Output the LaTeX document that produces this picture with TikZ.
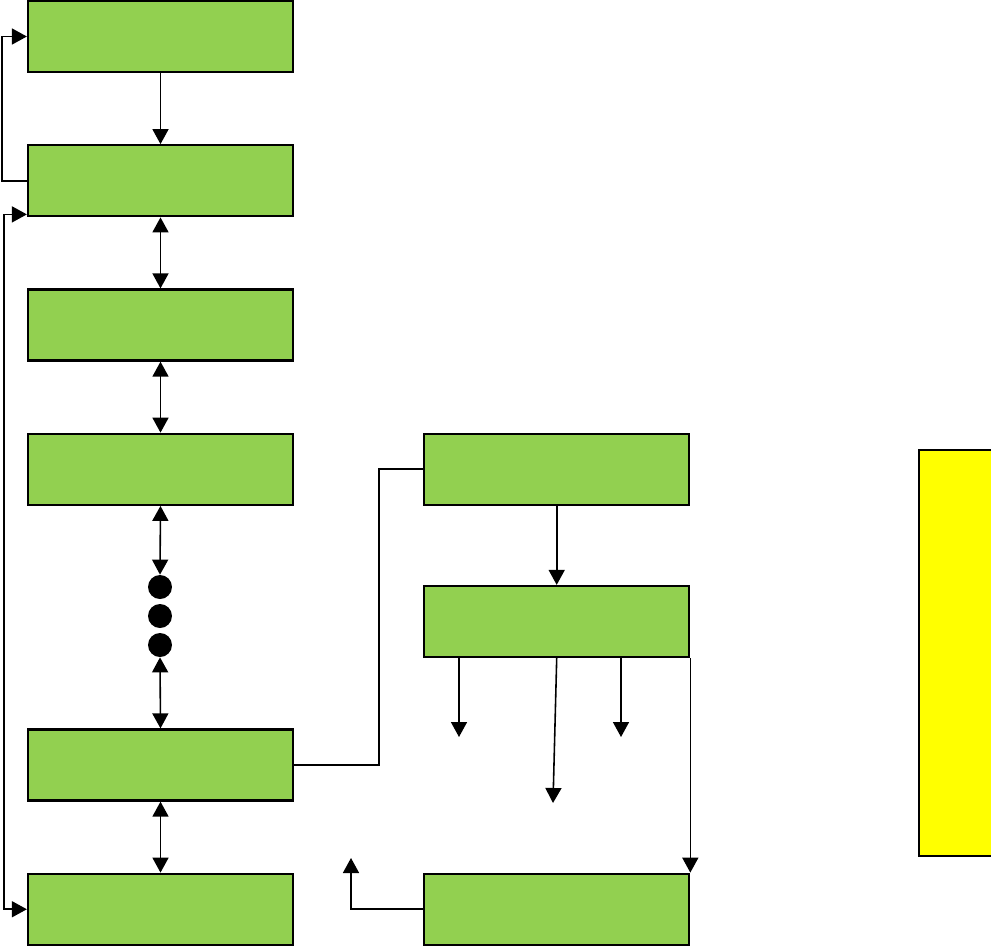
\documentclass[tikz,border=0pt]{standalone}
\usepackage{tikz}
\usetikzlibrary{positioning,arrows.meta}
\definecolor{boxgreen}{RGB}{146,208,80}
\definecolor{noteyellow}{RGB}{255,255,0}

\begin{document}
\begin{tikzpicture}[
    x=0.02cm, y=-0.02cm,
    node distance=1.42cm,
    block/.style={
        rectangle,
        draw=black, line width=1.3pt,
        fill=boxgreen,
        minimum width=5.3cm,
        minimum height=1.42cm
    },
    dot/.style={circle, fill=black, inner sep=0pt, minimum size=0.48cm},
    arrow/.style={-{Triangle[length=3mm,width=3.2mm]}, line width=0.9pt},
    biarrow/.style={{Triangle[length=3mm,width=3.2mm]}-{Triangle[length=3mm,width=3.2mm]}, line width=0.9pt},
    link/.style={line width=0.9pt}
]
\clip (0,0) rectangle (991,947);

% Left column
\node[block] (box1) at (160.5,36.5) {};
\node[block, below=of box1] (box2) {};
\node[block, below=of box2] (box3) {};
\node[block, below=of box3] (box4) {};
\node[block, below=4.45cm of box4] (box5) {};
\node[block, below=of box5] (box6) {};

% Dots
\node[dot] (dot1) at (160,587) {};
\node[dot] (dot2) at (160,616) {};
\node[dot] (dot3) at (160,645) {};

% Right column
\node[block, right=2.58cm of box4] (rbox1) {};
\node[block, below=1.58cm of rbox1] (rbox2) {};
\node[block, right=2.58cm of box6] (rbox3) {};

% Yellow note (runs off the right edge)
\draw[line width=0.8pt, fill=noteyellow] (919,450) rectangle (1010,856);

% Free ends
\coordinate (out1) at (459,737);
\coordinate (out2) at (553,803);
\coordinate (out3) at (621,737);
\coordinate (out4) at (351,858);

% Left column connectors
\draw[arrow] (box1.south) -- (box2.north);
\draw[biarrow] (box2.south) -- (box3.north);
\draw[biarrow] (box3.south) -- (box4.north);
\draw[biarrow] (box4.south) -- (dot1.north);
\draw[biarrow] (dot3.south) -- (box5.north);
\draw[biarrow] (box5.south) -- (box6.north);

% Feedback loops
\draw[arrow] (box2.west) -- ++(-25,0) |- (box1.west);
\draw[biarrow] ([yshift=0.06cm]box2.south west) -- ++(-23,0) |- (box6.west);

% Link to right column
\draw[link] (box5.east) -- ++(85,0) |- (rbox1.west);
\draw[arrow] (rbox1.south) -- (rbox2.north);

% Outputs
\draw[arrow] (rbox2.south -| out1) -- (out1);
\draw[arrow] (rbox2.south) -- (out2);
\draw[arrow] (rbox2.south -| out3) -- (out3);
\draw[arrow] (rbox2.south east) -- (rbox3.north east);
\draw[arrow] (rbox3.west) -| (out4);

\end{tikzpicture}
\end{document}
